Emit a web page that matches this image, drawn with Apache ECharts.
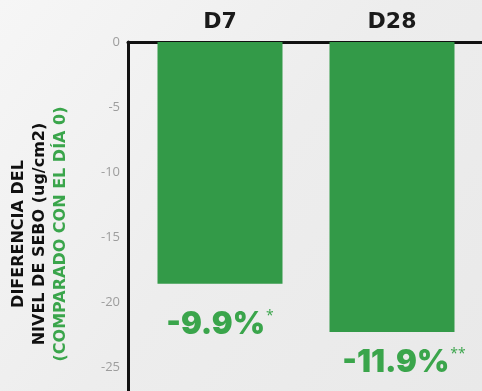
<!DOCTYPE html>
<html><head><meta charset="utf-8">
<script src="https://cdn.jsdelivr.net/npm/echarts@6/dist/echarts.min.js"></script>
<style>html,body{margin:0;padding:0;}#c{width:482px;height:391px;}</style>
</head><body><div id="c"></div>
<script>
var categories = ['D7', 'D28'];
var values = [-18.6, -22.3];
var pctLabels = ['-9.9%', '-11.9%'];
var stars = ['*', '**'];
var yMin = -30, yMax = 0, yStep = 5;
var titleLine1 = 'DIFERENCIA DEL';
var titleLine2 = 'NIVEL DE SEBO (ug/cm2)';
var titleLine3 = '(COMPARADO CON EL DÍA 0)';

var GREEN = '#339a48';
var LABEL_GREEN = '#3aa54b';
var labelTweaks = [{dist: 25, off: [0, 0]}, {dist: 15, off: [12, 0]}];

var chart = echarts.init(document.getElementById('c'));
chart.setOption({
  backgroundColor: {
    type: 'linear', x: 0, y: 0, x2: 1, y2: 1,
    colorStops: [{offset: 0, color: '#f6f6f6'}, {offset: 0.5, color: '#ededed'}, {offset: 1, color: '#e9e9e9'}]
  },
  animation: false,
  grid: [
    {left: 128, right: 0, top: 42, bottom: -41, containLabel: false, outerBoundsMode: 'none'},
    {left: 134, right: 4, top: 42, bottom: -41, containLabel: false, outerBoundsMode: 'none'}
  ],
  xAxis: [
    {gridIndex: 0, type: 'value', position: 'top', min: 0, max: 1,
     axisLine: {show: true, onZero: false, lineStyle: {color: '#111', width: 3}},
     axisTick: {show: false}, axisLabel: {show: false}, splitLine: {show: false}},
    {gridIndex: 1, type: 'category', position: 'top', data: categories,
     axisLine: {show: false}, axisTick: {show: false},
     axisLabel: {color: '#1a1a1a', fontSize: 22, fontWeight: 900, fontFamily: 'DejaVu Sans', margin: 9}}
  ],
  yAxis: [
    {gridIndex: 0, type: 'value', min: yMin, max: yMax, interval: yStep,
     axisLine: {show: true, onZero: false, lineStyle: {color: '#111', width: 3}},
     axisTick: {show: false}, splitLine: {show: false},
     axisLabel: {color: '#9d9d9d', fontSize: 13, fontFamily: 'Open Sans', margin: 8},
     name: '{a|' + titleLine1 + '}\n{a|' + titleLine2 + '}\n{g|' + titleLine3 + '}',
     nameLocation: 'middle', nameRotate: 90, nameGap: 57,
     nameTextStyle: {
       padding: [0, 0, 0, 6],
       rich: {
         a: {color: '#111', fontSize: 16, fontWeight: 'bold', fontFamily: 'DejaVu Sans', lineHeight: 21},
         g: {color: LABEL_GREEN, fontSize: 16, fontWeight: 'bold', fontFamily: 'DejaVu Sans', lineHeight: 21}
       }
     }},
    {gridIndex: 1, type: 'value', min: yMin, max: yMax, interval: yStep, show: false}
  ],
  series: [{
    type: 'bar', xAxisIndex: 1, yAxisIndex: 1, barWidth: 125,
    itemStyle: {color: GREEN},
    data: values.map(function (v, i) {
      return {
        value: v,
        label: {
          show: true, position: 'bottom', distance: labelTweaks[i].dist, offset: labelTweaks[i].off,
          formatter: '{p|' + pctLabels[i] + '}{s|' + stars[i] + '}',
          rich: {
            p: {color: LABEL_GREEN, fontSize: 31, fontWeight: 900, fontFamily: 'Inter'},
            s: {color: LABEL_GREEN, fontSize: 14, verticalAlign: 'top', padding: [0, 0, 16, 1], fontFamily: 'Open Sans'}
          }
        }
      };
    })
  }]
});
</script></body></html>
